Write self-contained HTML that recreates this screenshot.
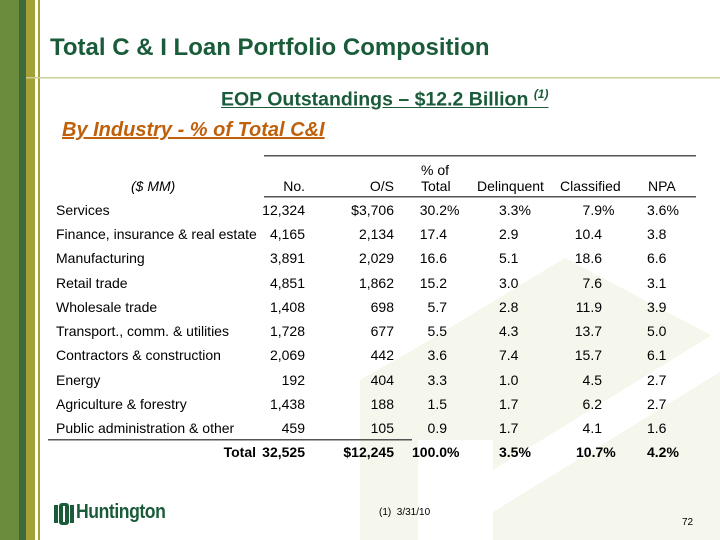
<!DOCTYPE html>
<html><head><meta charset="utf-8"><style>
body{margin:0;width:720px;height:540px;overflow:hidden;background:#fff;position:relative;font-family:"Liberation Sans",Arial,sans-serif;}
.a{position:absolute;white-space:nowrap;}
.t{font-size:14px;color:#000;line-height:16px;}
.r{text-align:right;}
.b{font-weight:bold;}
</style></head><body>
<svg class="a" style="left:0;top:0" width="720" height="540">
<polygon points="360,380 418,347 418,540 360,540" fill="#f5f6ec"/>
<polygon points="418,347 565,258 720,340 720,540 418,540" fill="#f5f6ec"/>
<rect x="418" y="440" width="75" height="100" fill="#fff"/>
<polygon points="493,470 720,330 720,372 493,512" fill="#fff"/>
<rect x="0" y="0" width="19" height="540" fill="#6a8c3c"/>
<rect x="19" y="0" width="7" height="540" fill="#3f6b3c"/>
<rect x="26" y="0" width="9" height="540" fill="#a3a035"/>
<rect x="38" y="0" width="2" height="540" fill="#a3a035"/>
<rect x="26" y="77" width="694" height="1.5" fill="#c8cf98"/>
<rect x="264" y="155" width="432" height="1.5" fill="#555"/>
<rect x="264" y="196" width="432" height="1.5" fill="#555"/>
<rect x="48" y="439" width="364" height="1.5" fill="#555"/>
</svg>
<div class="a b" style="left:50px;top:34px;font-size:24px;color:#1a5c3a;">Total C &amp; I Loan Portfolio Composition</div>
<div class="a b" style="left:221px;top:87px;font-size:19.5px;color:#1a5c3a;text-decoration:underline;">EOP Outstandings – $12.2 Billion <sup style="font-size:12px;font-style:italic;">(1)</sup></div>
<div class="a b" style="left:62px;top:119px;font-size:20px;color:#c0600a;font-style:italic;text-decoration:underline;">By Industry - % of Total C&amp;I</div>
<div class="a t" style="left:131px;top:178px;font-style:italic;">($ MM)</div>
<div class="a t r" style="left:255px;width:50px;top:178px;">No.</div>
<div class="a t r" style="left:344px;width:50px;top:178px;">O/S</div>
<div class="a t" style="left:421px;top:162px;">% of<br>Total</div>
<div class="a t" style="left:477px;top:178px;">Delinquent</div>
<div class="a t" style="left:560px;top:178px;">Classified</div>
<div class="a t" style="left:648px;top:178px;">NPA</div>
<div id="rows"></div>
<script>
var d=[["Services","12,324","$3,706","30.2","%","3.3%","7.9","%","3.6%"],
["Finance, insurance & real estate","4,165","2,134","17.4","","2.9","10.4","","3.8"],
["Manufacturing","3,891","2,029","16.6","","5.1","18.6","","6.6"],
["Retail trade","4,851","1,862","15.2","","3.0","7.6","","3.1"],
["Wholesale trade","1,408","698","5.7","","2.8","11.9","","3.9"],
["Transport., comm. & utilities","1,728","677","5.5","","4.3","13.7","","5.0"],
["Contractors & construction","2,069","442","3.6","","7.4","15.7","","6.1"],
["Energy","192","404","3.3","","1.0","4.5","","2.7"],
["Agriculture & forestry","1,438","188","1.5","","1.7","6.2","","2.7"],
["Public administration & other","459","105","0.9","","1.7","4.1","","1.6"]];
var ys=[202,226,250,275,299,323,347,372,396,420],h="";
function e(s){return s.replace(/&/g,"&amp;");}
d.forEach(function(r,i){var y=ys[i];
h+='<div class="a t" style="left:56px;top:'+y+'px">'+e(r[0])+'</div>';
h+='<div class="a t r" style="left:225px;width:80px;top:'+y+'px">'+r[1]+'</div>';
h+='<div class="a t r" style="left:314px;width:80px;top:'+y+'px">'+r[2]+'</div>';
h+='<div class="a t r" style="left:387px;width:60px;top:'+y+'px">'+r[3]+'</div>';
if(r[4])h+='<div class="a t" style="left:447px;top:'+y+'px">%</div>';
h+='<div class="a t" style="left:499px;top:'+y+'px">'+r[5]+'</div>';
h+='<div class="a t r" style="left:542px;width:60px;top:'+y+'px">'+r[6]+'</div>';
if(r[7])h+='<div class="a t" style="left:602px;top:'+y+'px">%</div>';
h+='<div class="a t" style="left:647px;top:'+y+'px">'+r[8]+'</div>';});
var y=444;
h+='<div class="a t b r" style="left:150px;width:106px;top:'+y+'px">Total</div>';
h+='<div class="a t b r" style="left:225px;width:80px;top:'+y+'px">32,525</div>';
h+='<div class="a t b r" style="left:304px;width:90px;top:'+y+'px">$12,245</div>';
h+='<div class="a t b" style="left:412px;top:'+y+'px">100.0%</div>';
h+='<div class="a t b" style="left:499px;top:'+y+'px">3.5%</div>';
h+='<div class="a t b" style="left:576px;top:'+y+'px">10.7%</div>';
h+='<div class="a t b" style="left:647px;top:'+y+'px">4.2%</div>';
document.getElementById("rows").innerHTML=h;
</script>
<svg class="a" style="left:54px;top:503px" width="20" height="22"><rect x="0" y="2" width="4" height="18" fill="#1a5c3a"/><rect x="16" y="2" width="4" height="18" fill="#1a5c3a"/><rect x="5" y="0" width="10" height="22" rx="3" fill="#1a5c3a"/><rect x="9" y="3" width="2" height="16" fill="#fff"/></svg>
<div class="a b" style="left:76px;top:501px;font-size:20px;color:#1a5c3a;letter-spacing:-0.5px;transform:scaleX(0.88);transform-origin:left;">Huntington</div>
<div class="a" style="left:379px;top:507px;font-size:10px;">(1)&nbsp; 3/31/10</div>
<div class="a" style="left:682px;top:517px;font-size:10px;">72</div>
</body></html>
